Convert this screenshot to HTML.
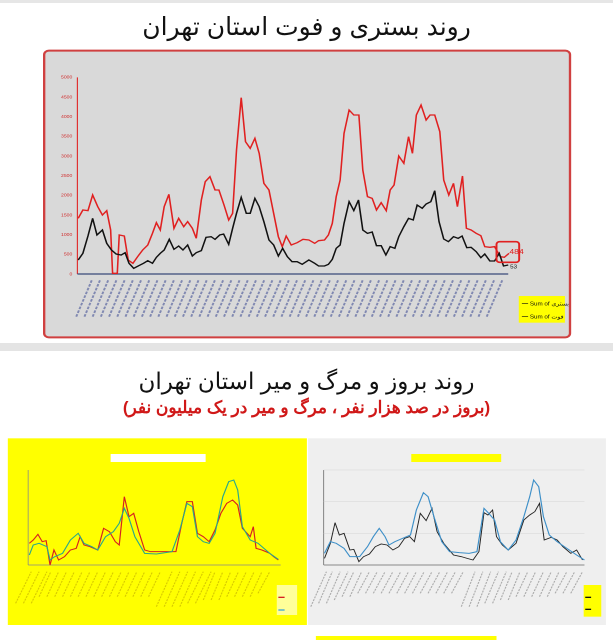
<!DOCTYPE html>
<html><head><meta charset="utf-8"><style>
html,body{margin:0;padding:0;background:#fff;width:613px;height:640px;overflow:hidden;position:relative;font-family:"Liberation Sans","Noto Sans CJK SC",sans-serif}
.t{position:absolute;left:0;width:613px;text-align:center;direction:rtl}
svg{position:absolute;left:0}
</style></head><body>
<div style="position:absolute;left:0;top:0;width:613px;height:3px;background:#e6e6e6"></div>
<div class="t" style="top:12px;font-size:25px;color:#111">روند بستری و فوت استان تهران</div>
<svg style="top:0" width="613" height="350" viewBox="0 0 1568 1050" preserveAspectRatio="none">
<rect x="113" y="152" width="1345" height="860" rx="12" fill="#d9d9d9" stroke="#d04040" stroke-width="6"/>
<line x1="198" y1="232" x2="198" y2="822" stroke="#e03030" stroke-width="3"/>
<line x1="198" y1="822" x2="1300" y2="822" stroke="#3a4a7a" stroke-width="4"/>
<g font-size="13" fill="#d03030" text-anchor="end">
<text x="185" y="236">5000</text><text x="185" y="296">4500</text><text x="185" y="354">4000</text><text x="185" y="413">3500</text><text x="185" y="472">3000</text><text x="185" y="531">2500</text><text x="185" y="590">2000</text><text x="185" y="649">1500</text><text x="185" y="708">1000</text><text x="185" y="767">500</text><text x="185" y="826">0</text></g>
<g stroke="#2a3a8a" stroke-width="5" opacity="0.5" stroke-dasharray="8 4">
<path d="M195 950 L235 840 M216 950 L256 840 M237 950 L277 840 M258 950 L298 840 M279 950 L319 840 M300 950 L340 840 M321 950 L361 840 M342 950 L382 840 M363 950 L403 840 M384 950 L424 840 M405 950 L445 840 M426 950 L466 840 M447 950 L487 840 M468 950 L508 840 M489 950 L529 840 M510 950 L550 840 M531 950 L571 840 M552 950 L592 840 M573 950 L613 840 M594 950 L634 840 M615 950 L655 840 M636 950 L676 840 M657 950 L697 840 M678 950 L718 840 M699 950 L739 840 M720 950 L760 840 M741 950 L781 840 M762 950 L802 840 M783 950 L823 840 M804 950 L844 840 M825 950 L865 840 M846 950 L886 840 M867 950 L907 840 M888 950 L928 840 M909 950 L949 840 M930 950 L970 840 M951 950 L991 840 M972 950 L1012 840 M993 950 L1033 840 M1014 950 L1054 840 M1035 950 L1075 840 M1056 950 L1096 840 M1077 950 L1117 840 M1098 950 L1138 840 M1119 950 L1159 840 M1140 950 L1180 840 M1161 950 L1201 840 M1182 950 L1222 840 M1203 950 L1243 840 M1224 950 L1264 840 M1245 950 L1285 840"/></g>
<polyline fill="none" stroke="#e02020" stroke-width="4" points="200,655 212,630 225,632 237,585 250,620 262,645 273,632 283,690 288,820 300,820 305,705 318,708 328,780 340,790 352,770 365,750 378,735 390,700 400,668 410,690 420,620 432,583 445,685 457,655 470,680 480,665 492,685 502,715 515,600 525,545 537,530 550,570 560,570 573,615 585,660 595,640 605,450 617,293 628,425 640,445 652,415 663,460 675,550 688,570 700,640 712,710 722,740 732,708 745,735 760,728 775,718 790,720 805,730 815,722 830,720 840,705 850,670 860,590 870,540 880,400 893,330 905,345 918,345 928,510 940,590 952,595 963,630 975,608 988,632 998,570 1008,555 1020,468 1033,490 1045,410 1055,460 1065,345 1077,315 1090,360 1100,345 1112,345 1125,395 1135,540 1148,585 1160,550 1170,620 1183,528 1193,685 1205,690 1218,700 1230,707 1240,740 1253,742 1265,740 1280,770 1290,772 1302,760"/>
<polyline fill="none" stroke="#111" stroke-width="4" points="200,780 212,760 225,708 237,655 248,705 262,690 273,730 285,750 297,762 310,765 320,758 330,790 342,805 355,797 367,790 378,782 390,790 400,772 410,760 420,750 433,718 445,748 457,738 468,750 480,735 492,768 502,758 515,752 527,712 540,710 550,718 562,705 572,702 585,733 595,685 605,640 617,592 630,640 640,640 652,595 663,620 675,665 688,720 700,735 712,768 723,745 735,770 747,785 760,785 773,793 790,780 805,790 815,798 830,798 840,793 850,778 860,745 870,735 880,670 893,605 905,632 917,600 928,690 940,700 952,696 963,737 975,737 987,765 998,740 1010,745 1020,710 1033,680 1045,655 1057,660 1067,615 1080,625 1090,612 1102,605 1112,572 1123,665 1135,717 1147,725 1160,710 1172,715 1182,708 1194,743 1205,742 1218,755 1230,773 1240,762 1253,783 1265,783 1277,760 1288,798 1300,795"/>
<rect x="1270" y="725" width="58" height="62" rx="8" fill="none" stroke="#e02020" stroke-width="5"/>
<text x="1303" y="762" font-size="22" fill="#e02020">484</text>
<text x="1305" y="805" font-size="16" fill="#111">53</text>
<rect x="1327" y="888" width="118" height="80" fill="#ffff00"/>
<text x="1335" y="916" font-size="16" fill="#111">━ Sum of بستری</text>
<text x="1335" y="955" font-size="16" fill="#111">━ Sum of فوت</text>
</svg>
<div style="position:absolute;left:0;top:343px;width:613px;height:8px;background:#e4e4e4"></div>
<div class="t" style="top:368px;font-size:23px;color:#111">روند بروز و مرگ و میر استان تهران</div>
<div class="t" style="top:398px;font-size:17px;font-weight:bold;color:#d01818">(بروز در صد هزار نفر ، مرگ و میر در یک میلیون نفر)</div>
<svg style="top:350px" width="613" height="290" viewBox="0 0 1568 870" preserveAspectRatio="none">
<rect x="20" y="265" width="765" height="560" fill="#ffff00"/>
<rect x="788" y="265" width="762" height="560" fill="#efefef"/>
<rect x="808" y="858" width="462" height="12" fill="#ffff00"/>
<rect x="283" y="312" width="243" height="24" fill="#fff"/>
<rect x="1052" y="312" width="230" height="24" fill="#ffff00"/>
<line x1="72" y1="360" x2="72" y2="645" stroke="#888" stroke-width="2"/>
<line x1="72" y1="645" x2="718" y2="645" stroke="#888" stroke-width="2"/>
<line x1="828" y1="360" x2="828" y2="645" stroke="#666" stroke-width="2"/>
<line x1="828" y1="645" x2="1495" y2="645" stroke="#666" stroke-width="2"/>
<g stroke="#ccc" stroke-width="1"><line x1="828" y1="550" x2="1495" y2="550"/><line x1="828" y1="455" x2="1495" y2="455"/><line x1="828" y1="360" x2="1495" y2="360"/></g>
<g stroke="#b7a000" stroke-width="3" opacity="0.55" stroke-dasharray="6 3"><path d="M40 760 L80 665 M60 760 L100 665 M80 760 L120 665 M100 740 L130 665 M120 740 L150 665 M140 740 L170 665 M160 740 L190 665 M180 740 L210 665 M200 740 L230 665 M220 740 L250 665 M240 740 L270 665 M260 740 L290 665 M280 740 L310 665 M300 740 L330 665 M320 740 L350 665 M340 740 L370 665 M360 740 L390 665 M380 740 L410 665 M400 770 L440 665 M420 770 L460 665 M440 770 L480 665 M460 770 L500 665 M480 760 L520 665 M500 760 L540 665 M520 750 L550 665 M540 750 L570 665 M560 750 L590 665 M580 740 L610 665 M600 740 L630 665 M620 740 L650 665 M640 740 L670 665 M660 730 L690 665"/></g>
<g stroke="#777" stroke-width="3" opacity="0.55" stroke-dasharray="6 3"><path d="M795 770 L835 665 M815 760 L850 665 M835 760 L870 665 M855 750 L890 665 M875 740 L905 665 M895 740 L925 665 M915 730 L945 665 M935 730 L965 665 M955 730 L985 665 M975 730 L1005 665 M995 730 L1025 665 M1015 730 L1045 665 M1035 730 L1065 665 M1055 730 L1085 665 M1075 730 L1105 665 M1095 730 L1125 665 M1115 730 L1145 665 M1135 730 L1165 665 M1155 730 L1185 665 M1180 770 L1215 665 M1200 770 L1235 665 M1220 770 L1255 665 M1240 760 L1275 665 M1260 760 L1295 665 M1280 750 L1310 665 M1300 750 L1330 665 M1320 740 L1350 665 M1340 740 L1370 665 M1360 740 L1390 665 M1380 740 L1410 665 M1400 740 L1430 665 M1420 730 L1450 665 M1440 730 L1470 665 M1460 730 L1490 665"/></g>
<polyline fill="none" stroke="#d62020" stroke-width="3" points="75,580 85,570 97,553 108,575 118,572 128,645 138,600 150,630 165,620 180,600 195,595 205,560 215,585 230,590 250,600 265,535 280,545 295,575 305,585 318,440 330,500 342,490 355,545 370,600 385,605 400,605 420,605 450,605 465,520 478,455 492,455 505,550 520,560 535,575 550,540 565,490 580,460 595,450 608,465 620,535 640,560 648,530 655,595 670,600 690,610 700,620 712,630"/>
<polyline fill="none" stroke="#2aa88a" stroke-width="3" points="75,615 85,585 100,580 120,590 128,630 140,620 160,610 180,570 200,550 215,580 235,590 250,600 270,560 290,545 305,520 318,475 330,505 345,560 370,610 400,612 440,605 460,540 478,460 492,470 505,560 520,575 535,580 550,550 570,440 585,395 598,390 608,420 620,530 640,570 660,580 690,610 712,628"/>
<polyline fill="none" stroke="#222" stroke-width="2.5" points="830,625 845,580 857,518 868,555 880,550 895,600 905,598 918,635 930,620 945,612 960,590 975,582 990,585 1005,600 1020,590 1035,565 1048,560 1060,575 1075,490 1090,512 1105,475 1118,545 1135,580 1160,615 1180,620 1195,625 1210,630 1225,605 1238,488 1248,495 1260,480 1270,560 1285,585 1300,600 1320,580 1340,510 1355,495 1368,485 1380,460 1392,570 1410,562 1425,570 1440,590 1460,610 1475,600 1490,630"/>
<polyline fill="none" stroke="#3d8fc8" stroke-width="3" points="830,610 845,575 860,580 880,595 895,620 920,620 940,590 955,560 970,535 985,560 995,585 1010,575 1030,565 1050,555 1065,480 1083,428 1095,440 1110,500 1130,575 1150,605 1175,608 1200,610 1220,605 1238,475 1250,490 1265,510 1280,575 1300,600 1320,570 1340,500 1355,440 1365,390 1378,410 1390,500 1405,555 1425,575 1450,595 1475,615 1495,630"/>
<rect x="708" y="705" width="52" height="90" fill="#fff" opacity="0.6"/>
<line x1="712" y1="742" x2="728" y2="742" stroke="#d62020" stroke-width="4"/>
<line x1="712" y1="780" x2="728" y2="780" stroke="#3aa8d8" stroke-width="4"/>
<rect x="1493" y="705" width="45" height="95" fill="#ffff00"/>
<line x1="1497" y1="742" x2="1512" y2="742" stroke="#111" stroke-width="4"/>
<line x1="1497" y1="778" x2="1512" y2="778" stroke="#111" stroke-width="4"/>
</svg>
</body></html>
